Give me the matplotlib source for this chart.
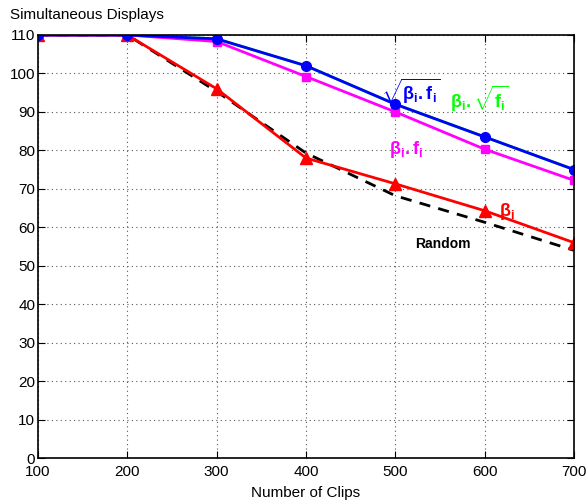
import numpy as np
import matplotlib.pyplot as plt

plt.rcParams["font.family"] = ["Liberation Sans", "DejaVu Sans"]
plt.rcParams["mathtext.fontset"] = "custom"
plt.rcParams["mathtext.rm"] = "Liberation Sans"
plt.rcParams["mathtext.it"] = "Liberation Sans"
plt.rcParams["mathtext.bf"] = "Liberation Sans:bold"

# data
clips = [100, 200, 300, 400, 500, 600, 700]
sqrt_bf = [110, 110, 109, 102, 92, 83.5, 75]
b_sqrtf = [110, 110, 109, 102, 92, 83.5, 75]
b_f = [110, 110, 108.3, 99.2, 90, 80.3, 72.2]
b_only = [110, 110, 96, 78, 71.3, 64.3, 56]
random_ = [110, 110, 95.3, 79.3, 68.2, 61.3, 54]

fig = plt.figure(figsize=(5.86, 5.04), dpi=100)
ax = fig.add_axes([38 / 586, 46 / 504, 536 / 586, 423 / 504])

ax.plot(clips, b_sqrtf, color="#00ff00", lw=2)
ax.plot(clips, random_, color="black", lw=2, ls=(0, (4, 3)))
ax.plot(clips, b_only, color="red", lw=2, marker="^", ms=8)
ax.plot(clips, b_f, color="magenta", lw=2, marker="s", ms=6)
ax.plot(clips, sqrt_bf, color="blue", lw=2, marker="o", ms=7)

ax.set_xlim(100, 700)
ax.set_ylim(0, 110)
ax.set_xticks(clips)
ax.set_yticks(np.arange(0, 111, 10))
ax.grid(True, color="#555555", ls=(0, (1, 3)), lw=0.8)
ax.tick_params(direction="in", labelsize=11, length=5, top=True, right=True, pad=2)
ax.tick_params(axis="x", pad=5)
for s in ax.spines.values():
    s.set_linewidth(1.2)
ax.set_xlabel("Number of Clips", fontsize=11, labelpad=5)

fig.text(10 / 586, 1 - 15 / 504, "Simultaneous Displays", fontsize=11, va="center")

ax.text(484, 93, r"$\sqrt{\mathbf{\beta_i . f_i}}$", color="blue", fontsize=13)
ax.text(561, 91, r"$\mathbf{\beta_i . \sqrt{f_i}}$", color="#00ff00", fontsize=13)
ax.text(493, 79, r"$\mathbf{\beta_i . f_i}$", color="magenta", fontsize=13)
ax.text(616, 63, r"$\mathbf{\beta_i}$", color="red", fontsize=13)
ax.text(522, 54.5, "Random", color="black", fontsize=10, fontweight="bold")

fig.savefig("out.png", dpi=100)
